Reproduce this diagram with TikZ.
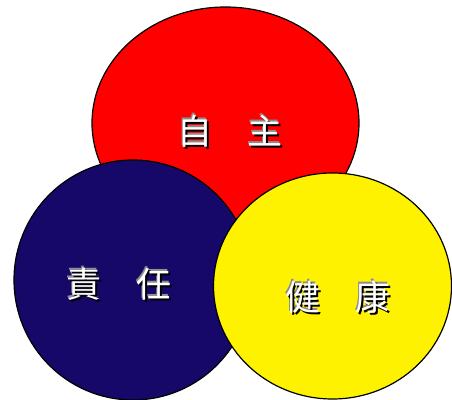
\documentclass[tikz,border=0pt]{standalone}
\usepackage{fontspec}
\usetikzlibrary{shapes.geometric}
\newfontfamily\cjkfont{Noto Sans CJK TC}
\definecolor{navyc}{RGB}{22,8,104}
\definecolor{shadowgray}{RGB}{140,140,140}
\tikzset{
  circ/.style={draw=black, line width=1.2pt},
  lbl/.style={font=\cjkfont\fontsize{35}{35}\selectfont, inner sep=0pt},
}
\newcommand{\fancylabel}[3]{%
  \node[lbl, text=shadowgray] at ([shift={(-1.5pt,1.5pt)}]#1) {#3};
  \node[lbl, text=black] at ([shift={(1.8pt,-1.8pt)}]#1) {#3};
  \node[lbl, text=white] (#2) at (#1) {#3};
}
\begin{document}
\begin{tikzpicture}[x=1pt,y=1pt]
\useasboundingbox (0,0) rectangle (452,399);
\begin{scope}
\clip (0,0) rectangle (452,399);
\node[circ, ellipse, fill=red, minimum width=267pt, minimum height=232pt, inner sep=0pt] (red) at (225.5,276) {};
\node[circ, ellipse, fill=navyc, minimum width=238pt, minimum height=240pt, inner sep=0pt] (blue) at (133,119) {};
\node[circ, ellipse, fill=yellow, minimum width=238pt, minimum height=226pt, inner sep=0pt] (yel) at (332.5,113) {};
\coordinate (p1) at (230,268);
\coordinate (p2) at (119,115);
\coordinate (p3) at (338,102);
\fancylabel{p1}{t1}{自　主}
\fancylabel{p2}{t2}{責　任}
\fancylabel{p3}{t3}{健　康}
\end{scope}
\end{tikzpicture}
\end{document}
